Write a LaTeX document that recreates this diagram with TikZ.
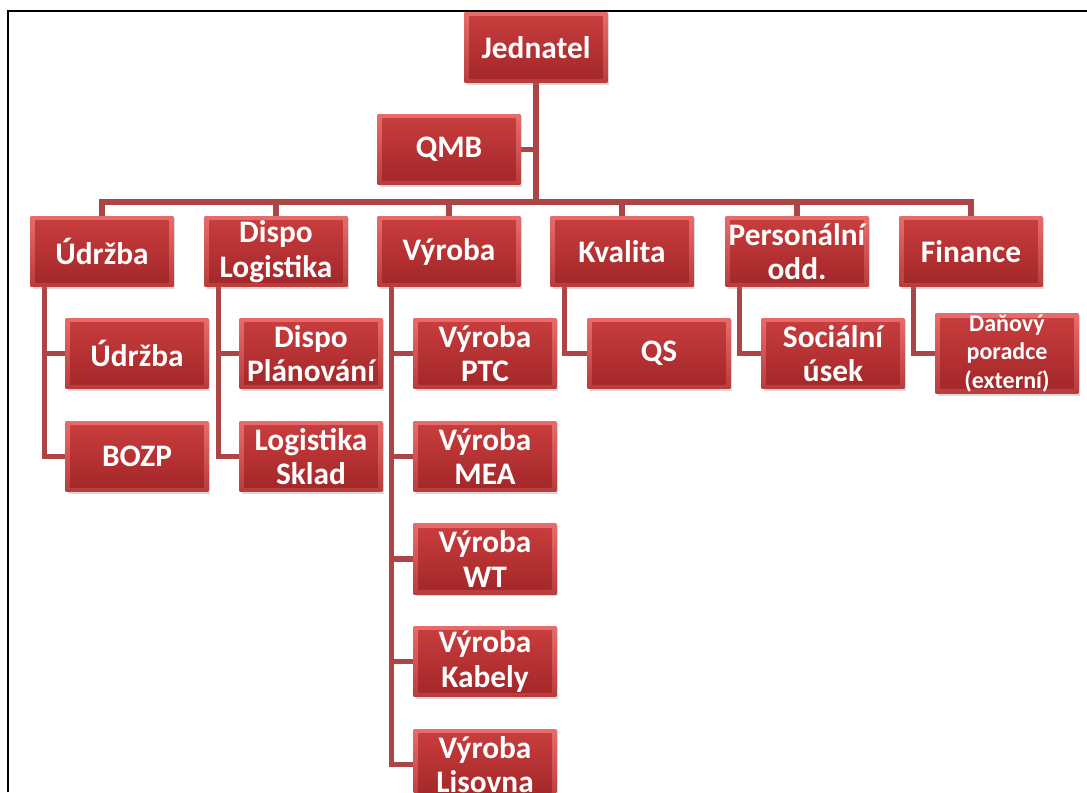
\documentclass[tikz,border=0pt]{standalone}
\usepackage{fontspec}
\setmainfont{Carlito}
\usepackage{tikz}
\usetikzlibrary{positioning,shadows,backgrounds}
\definecolor{boxtop}{RGB}{202,62,62}
\definecolor{boxbot}{RGB}{162,38,40}
\definecolor{bevtop}{RGB}{232,108,108}
\definecolor{bevbot}{RGB}{184,60,60}
\definecolor{linered}{RGB}{172,70,70}

\begin{document}
\begin{tikzpicture}[x=0.75pt,y=-0.75pt,
  box/.style={rectangle,minimum width=107pt,minimum height=53pt,inner sep=1pt,
    top color=bevtop,bottom color=bevbot,
    drop shadow={shadow xshift=1.5pt,shadow yshift=-1.5pt,opacity=0.3},
    path picture={\shade[top color=boxtop,bottom color=boxbot]
      ([shift={(3.5pt,-3.5pt)}]path picture bounding box.north west) rectangle
      ([shift={(-3.5pt,3.5pt)}]path picture bounding box.south east);},
    text=white,font=\fontsize{23.5}{26}\selectfont\bfseries,align=center},
  conn/.style={draw=linered,line width=3.8pt}]
\useasboundingbox (0,0) rectangle (1087,792);
\draw[line width=1.5pt] (8,792) -- (8,11) -- (1087,11);

\node[box] (jednatel) at (536,47.5) {Jednatel};
\node[box] (qmb) at (449,149.5) {QMB};

\node[box] (udrzba) at (102,251.5) {Údržba};
\node[box] (dispo) at (276,251.5) {Dispo\\Logistika};
\node[box] (vyroba) at (449,251.5) {Výroba};
\node[box] (kvalita) at (622,251.5) {Kvalita};
\node[box] (personal) at (797,251.5) {Personální\\odd.};
\node[box] (finance) at (971,251.5) {Finance};

\node[box] (udrzbaA) at (137,353.5) {Údržba};
\node[box] (bozp) at (137,456.5) {BOZP};
\node[box] (planovani) at (311,353.5) {Dispo\\Plánování};
\node[box] (sklad) at (311,456.5) {Logistika\\Sklad};
\node[box] (ptc) at (485,353.5) {Výroba\\PTC};
\node[box] (mea) at (485,456.5) {Výroba\\MEA};
\node[box] (wt) at (485,559) {Výroba\\WT};
\node[box] (kabely) at (485,661.5) {Výroba\\Kabely};
\node[box] (lisovna) at (485,764.5) {Výroba\\Lisovna};
\node[box] (qs) at (659,353.5) {QS};
\node[box] (social) at (833,353.5) {Sociální\\úsek};
\node[box,font=\fontsize{18}{21.5}\selectfont\bfseries] (dane) at (1007,353.5)
  {Daňový\\poradce\\(externí)};

\coordinate (bus) at (536,202);
\begin{scope}[on background layer]
\draw[conn] (jednatel.south) -- (jednatel.south |- bus);
\draw[conn] (qmb.east) -- (qmb.east -| jednatel.south);
\draw[conn] (udrzba.north) |- (bus) -| (finance.north);
\foreach \n in {dispo,vyroba,kvalita,personal}
  \draw[conn] (\n.north) -- (\n.north |- bus);
\foreach \p/\c in {udrzba/udrzbaA,udrzba/bozp,dispo/planovani,dispo/sklad,
    vyroba/ptc,vyroba/mea,vyroba/wt,vyroba/kabely,vyroba/lisovna,
    kvalita/qs,personal/social,finance/dane}
  \draw[conn] ([xshift=10.5pt]\p.south west) |- (\c.west);
\end{scope}
\end{tikzpicture}
\end{document}
